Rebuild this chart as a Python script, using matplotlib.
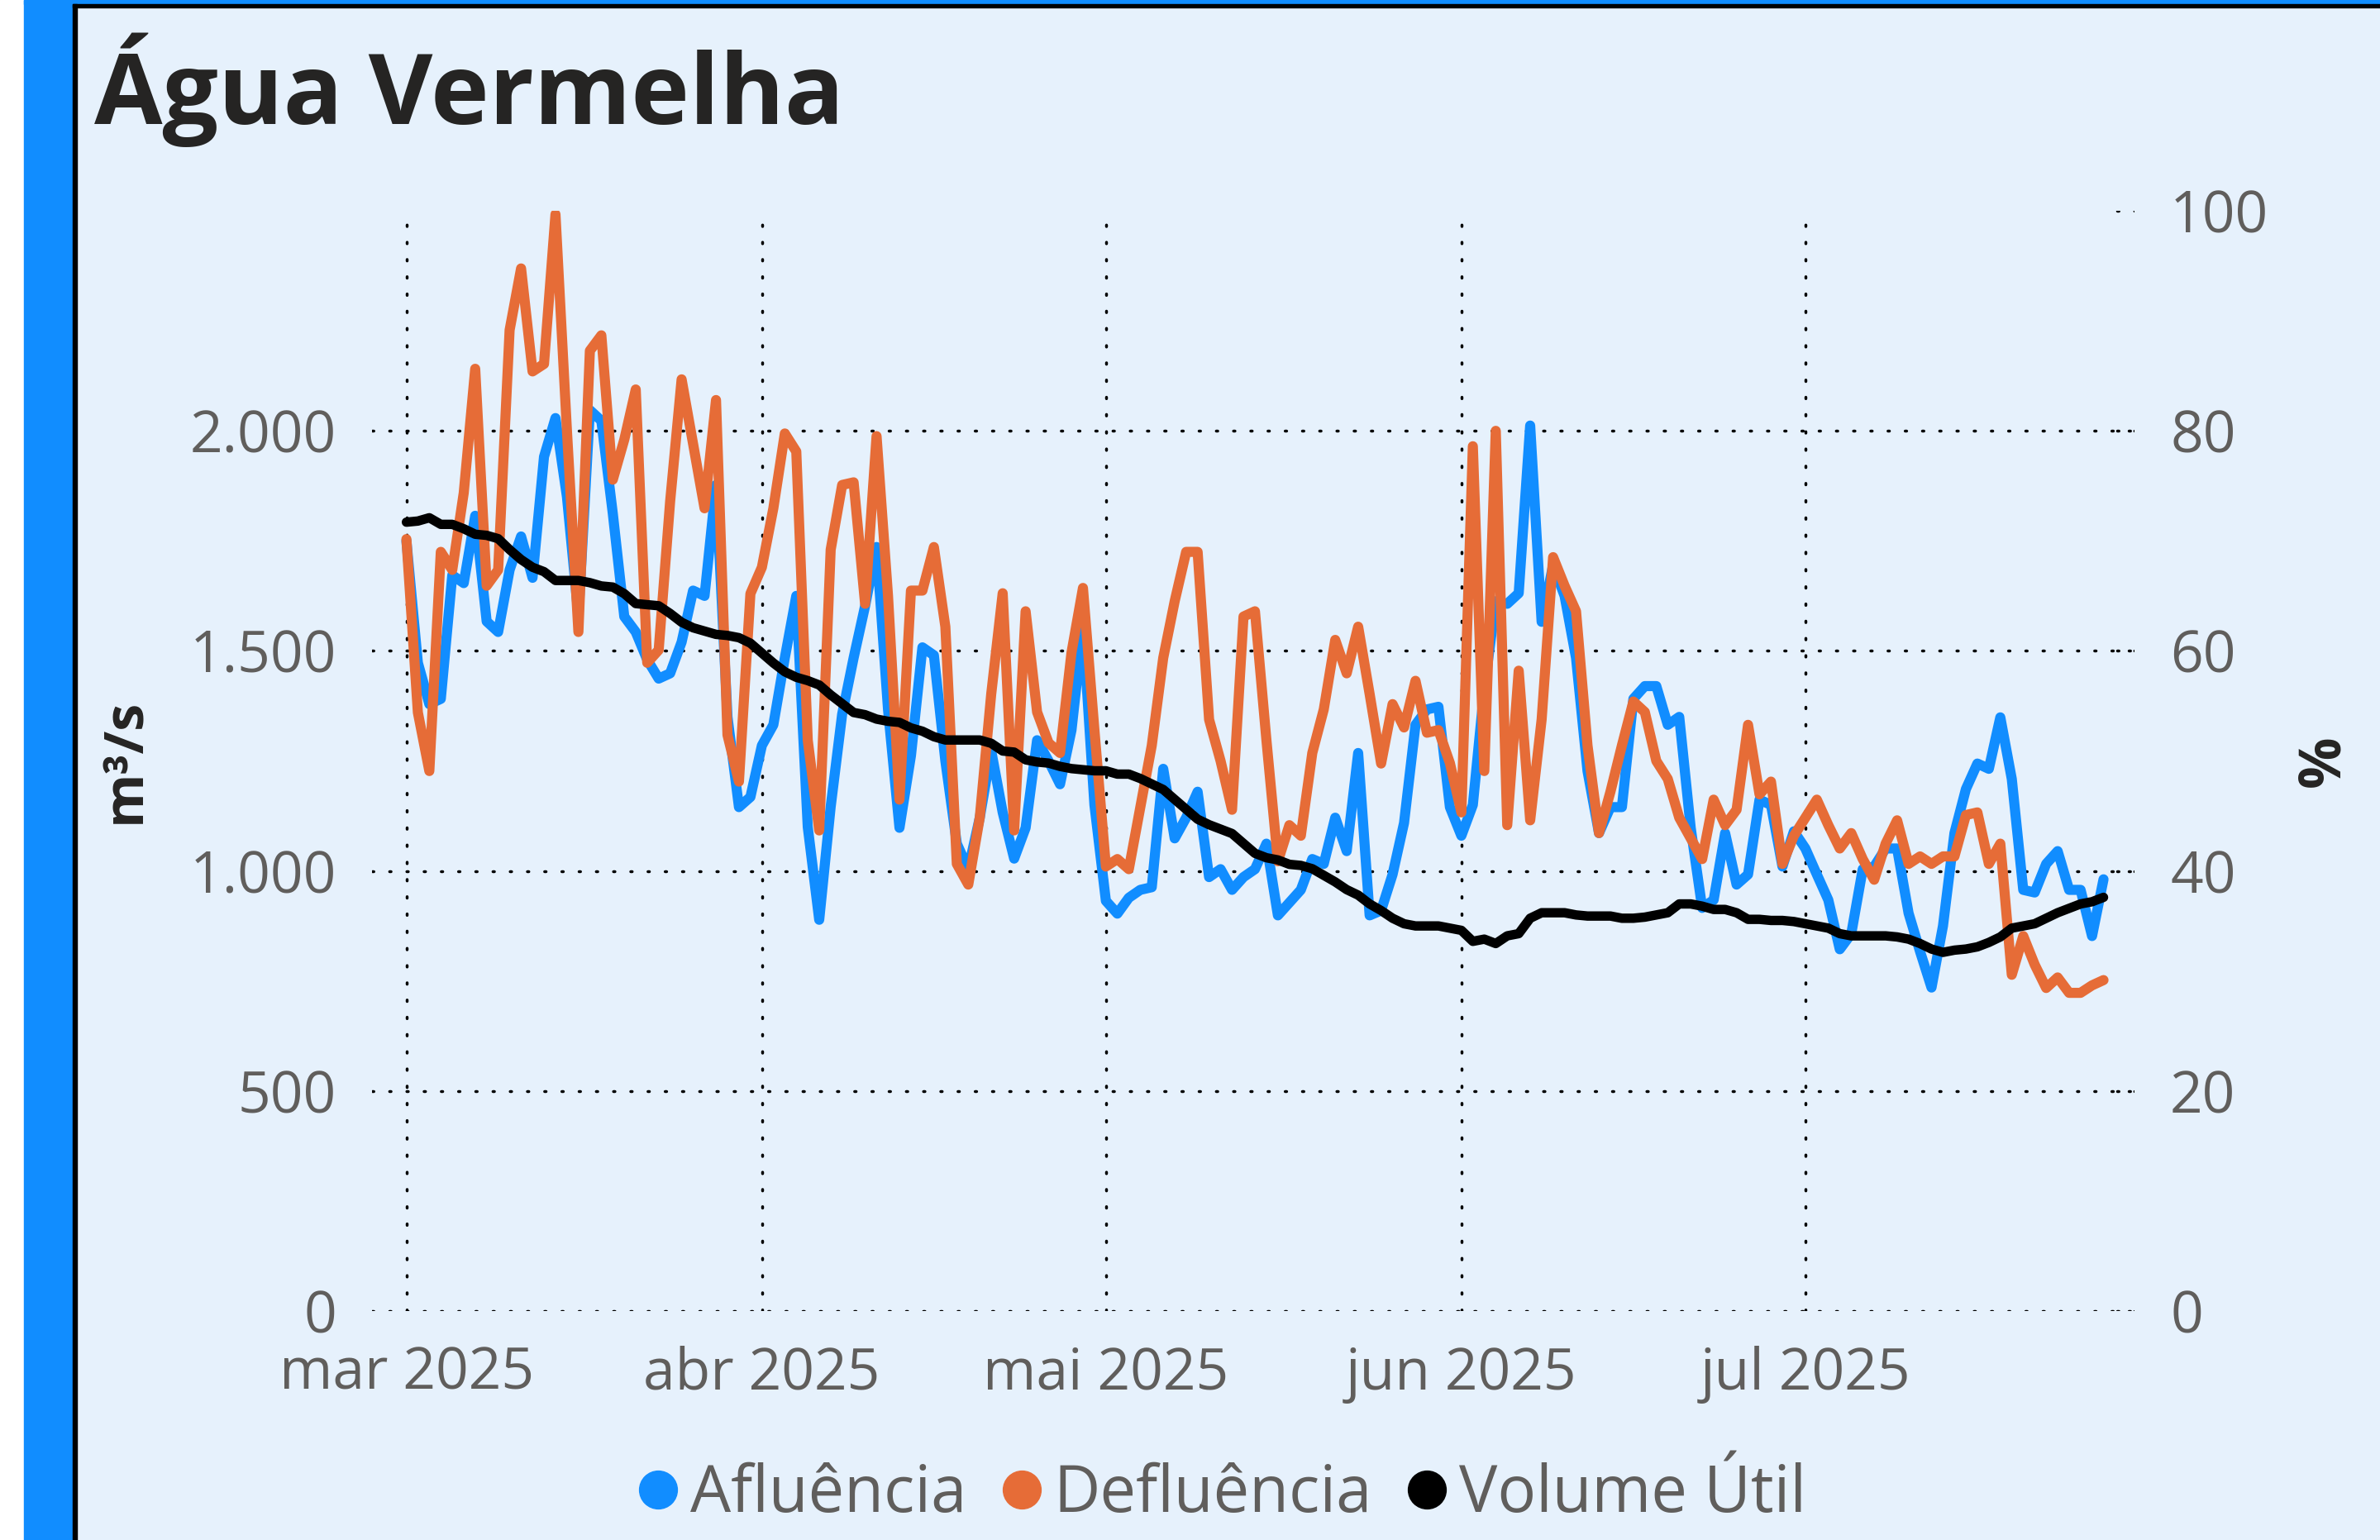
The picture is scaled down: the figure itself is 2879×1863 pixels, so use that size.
import matplotlib
matplotlib.use("Agg")
import matplotlib.pyplot as plt
from matplotlib.lines import Line2D
from matplotlib.patches import Rectangle
import pandas as pd

# valores diários a partir de 01/03/2025
afluencia = [1750, 1473, 1379, 1391, 1672, 1654, 1807, 1567, 1543, 1684,
             1760, 1666, 1941, 2029, 1850, 1580, 2047, 2023, 1812, 1578,
             1543, 1480, 1437, 1449, 1520, 1637, 1625, 1877, 1350, 1145,
             1168, 1285, 1332, 1484, 1625, 1100, 889, 1146, 1356, 1484,
             1602, 1736, 1367, 1098, 1262, 1508, 1490, 1250, 1062, 1004,
             1121, 1273, 1133, 1028, 1098, 1297, 1250, 1197, 1320, 1555,
             1150, 932, 903, 939, 957, 963, 1232, 1074, 1121, 1180,
             986, 1004, 957, 986, 1004, 1062, 899, 928, 957, 1027,
             1016, 1121, 1045, 1268, 899, 910, 992, 1109, 1332, 1367,
             1373, 1145, 1080, 1150, 1414, 1613, 1607, 1631, 2012, 1566,
             1695, 1625, 1484, 1227, 1086, 1145, 1145, 1391, 1420, 1420,
             1332, 1350, 1098, 916, 934, 1086, 969, 992, 1162, 1150,
             1010, 1090, 1051, 992, 934, 822, 857, 1004, 1010, 1051,
             1051, 904, 817, 735, 875, 1086, 1186, 1244, 1232, 1349,
             1209, 957, 951, 1016, 1045, 957, 957, 852, 981]

defluencia = [1754, 1360, 1227, 1725, 1684, 1859, 2141, 1648, 1684, 2229,
              2369, 2135, 2152, 2492, 2000, 1543, 2182, 2217, 1889, 1980,
              2094, 1473, 1502, 1840, 2117, 1970, 1824, 2070, 1309, 1203,
              1630, 1690, 1824, 1994, 1953, 1297, 1092, 1730, 1877, 1883,
              1607, 1988, 1625, 1162, 1637, 1637, 1736, 1555, 1016, 969,
              1121, 1402, 1631, 1092, 1590, 1361, 1291, 1268, 1496, 1643,
              1320, 1010, 1027, 1004, 1145, 1285, 1484, 1613, 1725, 1725,
              1344, 1250, 1139, 1578, 1590, 1297, 1022, 1104, 1080, 1268,
              1367, 1525, 1449, 1555, 1402, 1244, 1379, 1326, 1432, 1314,
              1320, 1245, 1133, 1965, 1227, 2000, 1104, 1455, 1115, 1344,
              1713, 1648, 1590, 1285, 1086, 1180, 1285, 1385, 1361, 1250,
              1209, 1121, 1074, 1027, 1162, 1104, 1139, 1332, 1174, 1203,
              1016, 1080, 1121, 1162, 1104, 1051, 1086, 1027, 980, 1062,
              1115, 1016, 1033, 1016, 1033, 1033, 1127, 1133, 1016, 1062,
              764, 852, 787, 734, 758, 723, 723, 740, 752]

# volume útil (%)
volume_util = [71.7, 71.8, 72.1, 71.5, 71.5, 71.1, 70.6, 70.5, 70.2, 69.2,
               68.3, 67.6, 67.2, 66.4, 66.4, 66.4, 66.2, 65.9, 65.8, 65.2,
               64.3, 64.2, 64.1, 63.4, 62.6, 62.1, 61.8, 61.5, 61.4, 61.2,
               60.7, 59.8, 58.9, 58.1, 57.6, 57.3, 56.9, 56.0, 55.2, 54.4,
               54.2, 53.8, 53.6, 53.5, 53.0, 52.7, 52.2, 51.9, 51.9, 51.9,
               51.9, 51.6, 50.9, 50.8, 50.1, 49.9, 49.8, 49.5, 49.3, 49.2,
               49.1, 49.1, 48.8, 48.8, 48.4, 47.9, 47.4, 46.5, 45.6, 44.7,
               44.2, 43.8, 43.4, 42.5, 41.6, 41.2, 41.0, 40.6, 40.5, 40.2,
               39.6, 39.0, 38.3, 37.8, 37.0, 36.4, 35.7, 35.2, 35.0, 35.0,
               35.0, 34.8, 34.6, 33.6, 33.8, 33.4, 34.1, 34.3, 35.7, 36.2,
               36.2, 36.2, 36.0, 35.9, 35.9, 35.9, 35.7, 35.7, 35.8, 36.0,
               36.2, 37.0, 37.0, 36.8, 36.5, 36.5, 36.2, 35.6, 35.6, 35.5,
               35.5, 35.4, 35.2, 35.0, 34.8, 34.3, 34.1, 34.1, 34.1, 34.1,
               34.0, 33.8, 33.4, 32.9, 32.6, 32.8, 32.9, 33.1, 33.5, 34.0,
               34.8, 35.0, 35.2, 35.7, 36.2, 36.6, 37.0, 37.2, 37.6]

y_ticks = [0, 500, 1000, 1500, 2000]
y_tick_labels = ["0", "500", "1.000", "1.500", "2.000"]
pct_ticks = [0, 20, 40, 60, 80, 100]
month_labels = ["mar 2025", "abr 2025", "mai 2025", "jun 2025", "jul 2025"]

dias = pd.date_range("2025-03-01", periods=len(afluencia), freq="D")

# cores
AZUL = "#118DFF"
LARANJA = "#E66C37"
FUNDO = "#E6F1FC"
CINZA = "#605E5C"
ESCURO = "#252423"

plt.rcParams["font.family"] = ["Open Sans", "DejaVu Sans"]

W, H = 2879, 1863
fig = plt.figure(figsize=(W / 100, H / 100), dpi=100, facecolor=FUNDO)

# moldura estilo cartão
fig.patches.append(Rectangle((0, 0), 29 / W, 1, transform=fig.transFigure, color="white", zorder=0))
fig.patches.append(Rectangle((29 / W, 0), 59 / W, 1, transform=fig.transFigure, color=AZUL, zorder=0))
fig.patches.append(Rectangle((29 / W, 1 - 5 / H), 1, 5 / H, transform=fig.transFigure, color=AZUL, zorder=0))
fig.patches.append(Rectangle((88 / W, 0), 5 / W, 1 - 5 / H, transform=fig.transFigure, color="black", zorder=0))
fig.patches.append(Rectangle((88 / W, 1 - 9 / H), 1, 4 / H, transform=fig.transFigure, color="black", zorder=0))

ax = fig.add_axes([450 / W, 277 / H, (2582 - 450) / W, (1586 - 255) / H])
ax.set_facecolor(FUNDO)
ax2 = ax.twinx()

lw = 8.8
ax.plot(dias, afluencia, color=AZUL, lw=lw, solid_joinstyle="round", solid_capstyle="round", zorder=3)
ax.plot(dias, defluencia, color=LARANJA, lw=lw, solid_joinstyle="round", solid_capstyle="round", zorder=4)
ax2.plot(dias, volume_util, color="black", lw=8.2, solid_joinstyle="round", solid_capstyle="round", zorder=5)

# eixos
ax.set_ylim(0, 2500)
ax2.set_ylim(0, 100)
ax.set_xlim(dias[0] - pd.Timedelta(days=3), dias[0] + pd.Timedelta(days=150.7))

meses = pd.date_range("2025-03-01", periods=len(month_labels), freq="MS")
ax.set_xticks(meses)
ax.set_xticklabels(month_labels)
ax.set_yticks(y_ticks)
ax.set_yticklabels(y_tick_labels)
ax2.set_yticks(pct_ticks)
ax2.set_yticklabels([str(t) for t in pct_ticks])

for a in (ax, ax2):
    for s in a.spines.values():
        s.set_visible(False)

ax.tick_params(axis="y", length=0, pad=31, labelsize=50, labelcolor=CINZA)
ax.tick_params(axis="x", length=0, pad=30, labelsize=50, labelcolor=CINZA)
ax2.tick_params(axis="y", length=0, pad=31, labelsize=50, labelcolor=CINZA)

# grade pontilhada
dots = (0, (0.5, 5.5))
for yv in y_ticks:
    ax.axhline(yv, color="black", lw=2.5, ls=dots, dash_capstyle="round", zorder=1)
for m in meses:
    ax.axvline(m, ymax=0.99, color="black", lw=2.5, ls=dots, dash_capstyle="round", zorder=1)
for t in pct_ticks:
    ax2.axhline(t, xmin=0.99, xmax=1.0, color="black", lw=2.5, ls=dots, dash_capstyle="round", zorder=1)

ax.set_ylabel("m³/s", fontsize=48, fontweight="bold", color=ESCURO)
ax.yaxis.set_label_coords(-0.124, 0.5)
ax2.set_ylabel("%", fontsize=50, fontweight="bold", color=ESCURO)
ax2.yaxis.set_label_coords(1.091, 0.5)

fig.text(114 / W, 1 - 150 / H, "Água Vermelha", fontsize=86, fontweight="bold",
         color=ESCURO, ha="left", va="baseline")

handles = [Line2D([], [], ls="", marker="o", markersize=33, color=c)
           for c in (AZUL, LARANJA, "black")]
fig.legend(handles, ["Afluência", "Defluência", "Volume Útil"], loc="center",
           bbox_to_anchor=(0.5137, 0.029), ncol=3, frameon=False, fontsize=56,
           labelcolor=CINZA, handlelength=0.6, handletextpad=0.2, columnspacing=0.55,
           borderpad=0, borderaxespad=0)

fig.savefig("out.png", dpi=100, facecolor=FUNDO)
